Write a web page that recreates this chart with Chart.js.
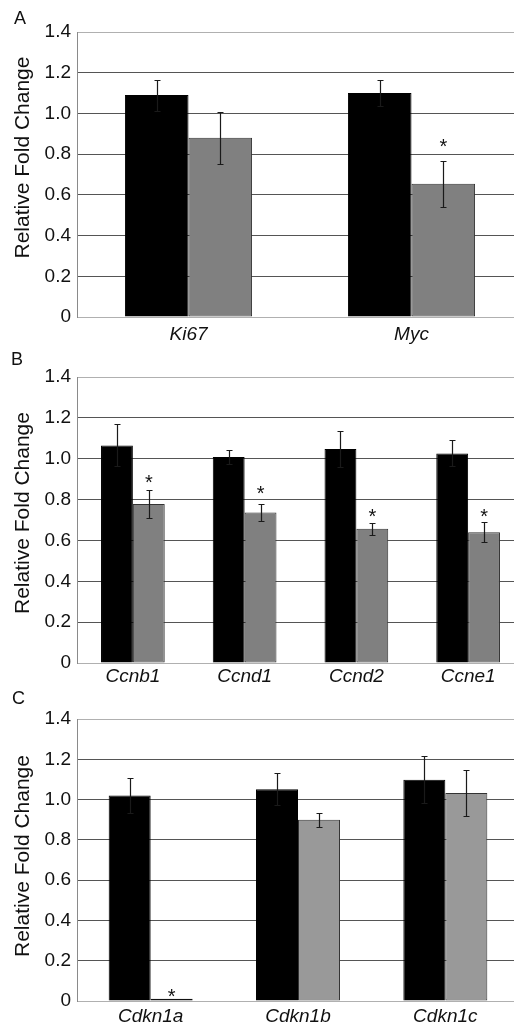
<!DOCTYPE html>
<html>
<head>
<meta charset="utf-8">
<script src="https://cdn.jsdelivr.net/npm/chart.js@4.4.0/dist/chart.umd.min.js"></script>
<style>
  html, body { margin: 0; padding: 0; background: #fff; overflow: hidden; }
  body { width: 514px; height: 1030px; position: relative; }
  canvas { position: absolute; left: 0; }
  .letter { position: absolute; font: 18px "Liberation Sans", Arial, sans-serif; color: #111; }
</style>
</head>
<body>
<canvas id="chartA" style="top:0px" width="523" height="345"></canvas>
<canvas id="chartB" style="top:345px" width="524" height="345"></canvas>
<canvas id="chartC" style="top:690px" width="519" height="340"></canvas>
<div class="letter" style="left:14px;top:8px">A</div>
<div class="letter" style="left:11px;top:349px">B</div>
<div class="letter" style="left:12px;top:688px">C</div>
<script>
const yTickLabels = ['0', '0.2', '0.4', '0.6', '0.8', '1.0', '1.2', '1.4']
const yTitle = 'Relative Fold Change'

// panel A
const labelsA = ['Ki67', 'Myc']
const controlA = [1.09, 1.10]
const controlErrA = [0.076, 0.064]
const treatedA = [0.88, 0.654]
const treatedErrA = [0.127, 0.113]
const starsA = [null, 0.861]

// panel B
const labelsB = ['Ccnb1', 'Ccnd1', 'Ccnd2', 'Ccne1']
const controlB = [1.065, 1.008, 1.047, 1.026]
const controlErrB = [0.103, 0.036, 0.090, 0.064]
const treatedB = [0.778, 0.737, 0.657, 0.640]
const treatedErrB = [0.068, 0.043, 0.029, 0.048]
const starsB = [0.910, 0.853, 0.744, 0.744]

// panel C
const labelsC = ['Cdkn1a', 'Cdkn1b', 'Cdkn1c']
const controlC = [1.020, 1.051, 1.098]
const controlErrC = [0.088, 0.080, 0.116]
const treatedC = [0.011, 0.900, 1.033]
const treatedErrC = [0, 0.035, 0.114]
const starsC = [0.046, null, null]

const FONT = '"Liberation Sans", Arial, sans-serif'

const errorBars = {
  id: 'errorBars',
  afterDatasetsDraw(chart, args, opts) {
    const { ctx } = chart
    const y = chart.scales.y
    ctx.save()
    ctx.strokeStyle = '#1a1a1a'
    ctx.lineWidth = 1.2
    opts.errs.forEach((errs, di) => {
      const meta = chart.getDatasetMeta(di)
      const vals = chart.data.datasets[di].data
      meta.data.forEach((bar, i) => {
        const e = errs[i]
        if (!e) return
        const x = Math.round(bar.x) + 0.5
        const top = Math.round(y.getPixelForValue(vals[i] + e)) + 0.5
        const bot = Math.round(y.getPixelForValue(vals[i] - e)) + 0.5
        ctx.beginPath()
        ctx.moveTo(x, top); ctx.lineTo(x, bot)
        ctx.moveTo(x - 3, top); ctx.lineTo(x + 3, top)
        ctx.moveTo(x - 3, bot); ctx.lineTo(x + 3, bot)
        ctx.stroke()
      })
    })
    // significance stars over the treated bars
    const meta = chart.getDatasetMeta(1)
    ctx.fillStyle = '#111'
    ctx.font = '20px ' + FONT
    ctx.textAlign = 'center'
    ctx.textBaseline = 'alphabetic'
    opts.stars.forEach((lvl, i) => {
      if (lvl == null) return
      ctx.fillText('*', meta.data[i].x, y.getPixelForValue(lvl) + 11.5)
    })
    ctx.restore()
  }
}

// rotated y title, nudged along the axis like the original figure
const sideTitle = {
  id: 'sideTitle',
  afterDraw(chart, args, opts) {
    const { ctx, chartArea } = chart
    ctx.save()
    ctx.translate(29, (chartArea.top + chartArea.bottom) / 2 + opts.shift)
    ctx.rotate(-Math.PI / 2)
    ctx.fillStyle = '#111'
    ctx.font = '21px ' + FONT
    ctx.textAlign = 'center'
    ctx.textBaseline = 'alphabetic'
    ctx.fillText(yTitle, 0, 0)
    ctx.restore()
  }
}

function makePanel(id, labels, control, controlErr, treated, treatedErr, stars, grey, padTop, xHeight, xPad, titleShift) {
  return new Chart(document.getElementById(id), {
    type: 'bar',
    data: {
      labels,
      datasets: [
        {
          data: control,
          backgroundColor: '#000',
          borderColor: '#000',
          borderWidth: 1,
          categoryPercentage: 0.57,
          barPercentage: 1.0,
        },
        {
          data: treated,
          // a near-zero bar shows up only as its dark outline
          backgroundColor: (c) => (c.raw < 0.02 ? '#111' : grey),
          borderColor: (c) => (c.raw < 0.02 ? '#111' : '#333'),
          borderWidth: 1,
          borderSkipped: false,
          categoryPercentage: 0.57,
          barPercentage: 1.0,
        }
      ]
    },
    options: {
      responsive: false,
      animation: false,
      devicePixelRatio: 1,
      layout: { padding: { top: padTop, right: 0, bottom: 0, left: 0 } },
      scales: {
        x: {
          afterFit(s) { s.height = xHeight },
          grid: { display: false, drawTicks: false },
          border: { display: true, color: '#b0b0b0' },
          ticks: { padding: xPad, color: '#111', font: { family: FONT, size: 19, style: 'italic' } }
        },
        y: {
          min: 0,
          max: 1.4,
          afterFit(s) { s.width = 77 },
          ticks: {
            stepSize: 0.2,
            padding: 6,
            color: '#111',
            font: { family: FONT, size: 19 },
            callback: (v) => yTickLabels[Math.round(v / 0.2)]
          },
          grid: {
            drawTicks: false,
            lineWidth: 1,
            color: (c) => (c.tick && (c.tick.value === 0 || c.tick.value > 1.39)) ? '#b0b0b0' : '#555'
          },
          border: { display: true, color: '#8a8a8a' }
        }
      },
      plugins: {
        legend: { display: false },
        tooltip: { enabled: false },
        errorBars: { errs: [controlErr, treatedErr], stars },
        sideTitle: { shift: titleShift }
      }
    },
    plugins: [errorBars, sideTitle]
  })
}

makePanel('chartA', labelsA, controlA, controlErrA, treatedA, treatedErrA, starsA, '#808080', 32, 28, 6, -17)
makePanel('chartB', labelsB, controlB, controlErrB, treatedB, treatedErrB, starsB, '#808080', 32, 27, 2, -7)
makePanel('chartC', labelsC, controlC, controlErrC, treatedC, treatedErrC, starsC, '#999999', 29, 29, 4, -4)
</script>
</body>
</html>
